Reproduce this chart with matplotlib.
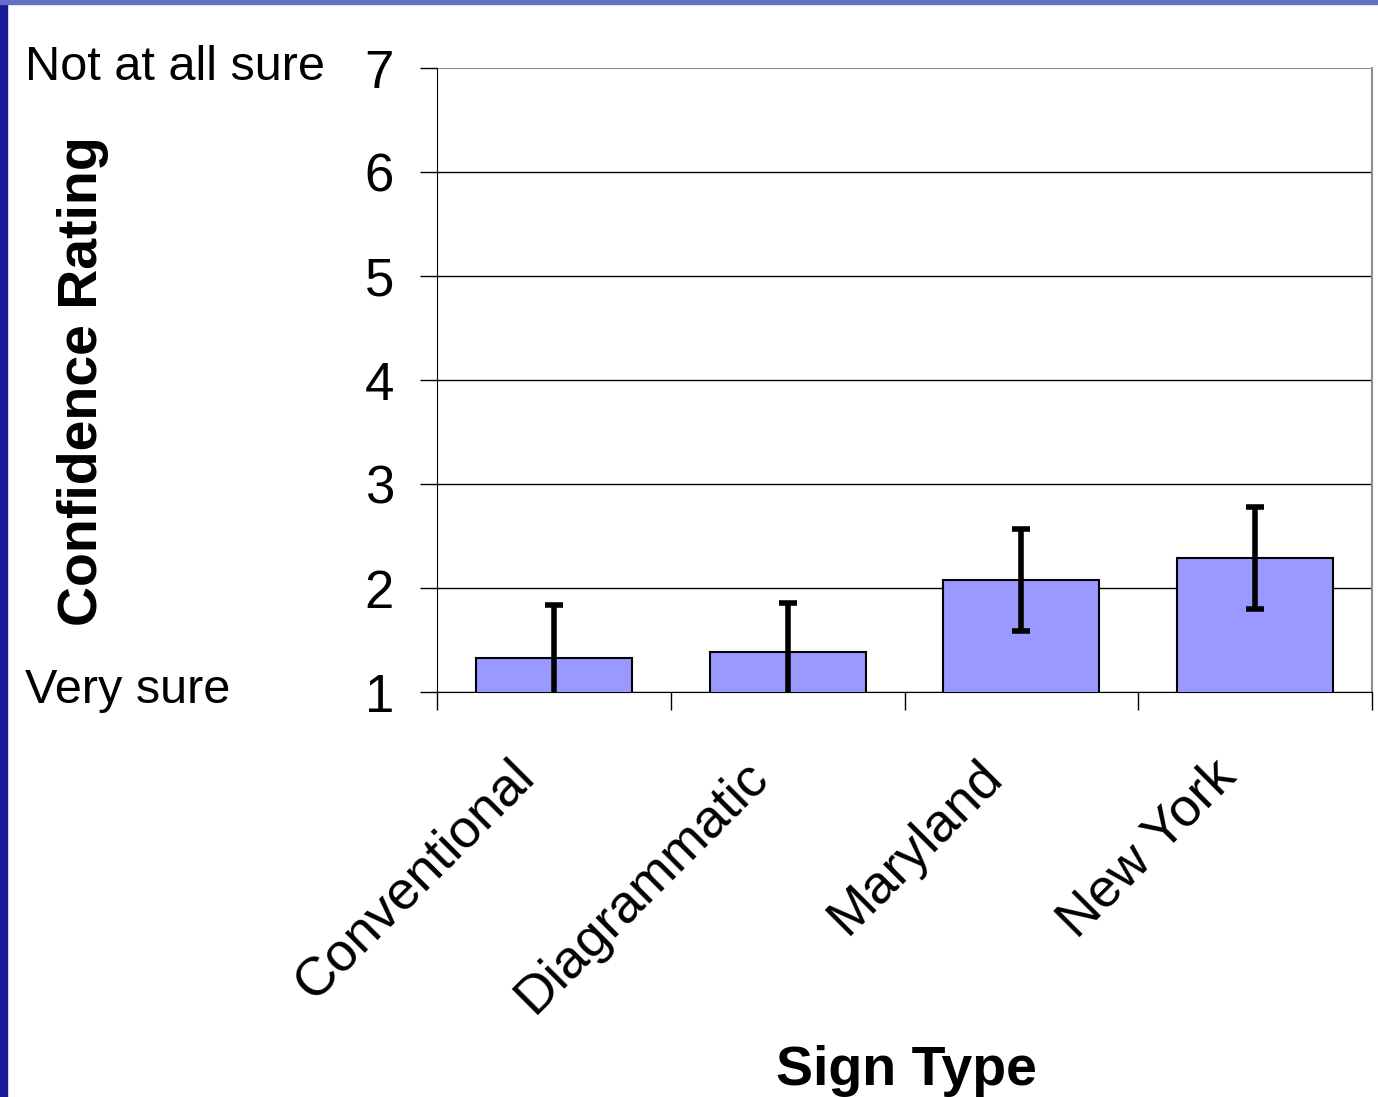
import numpy as np
import matplotlib
matplotlib.use("Agg")
import matplotlib.pyplot as plt
import matplotlib.transforms as mtransforms
from matplotlib.patches import Rectangle

plt.rcParams['font.family'] = ['Liberation Sans', 'DejaVu Sans']

# data
signs = ["Conventional", "Diagrammatic", "Maryland", "New York"]
means = [1.33, 1.38, 2.08, 2.29]
errs = [0.51, 0.48, 0.49, 0.49]
yticks = [1, 2, 3, 4, 5, 6, 7]

fig = plt.figure(figsize=(13.78, 10.97), dpi=100)

# slide background strips (left / top)
fig.patches.append(Rectangle((0, 0), 7 / 1378, 1, transform=fig.transFigure,
                             color="#1a1a9a", zorder=0))
fig.patches.append(Rectangle((0, 1 - 4 / 1097), 1, 4 / 1097, transform=fig.transFigure,
                             color="#6470c4", zorder=0))

ax = fig.add_axes([437 / 1378, 1 - 692 / 1097, (1372 - 437) / 1378, (692 - 68) / 1097])

x = np.arange(len(signs))
ax.bar(x, means, width=0.667, bottom=0, color="#9999FF", edgecolor="black",
       linewidth=1.5, zorder=3)
ax.errorbar(x, means, yerr=errs, fmt="none", ecolor="black", elinewidth=4,
            capsize=6.5, capthick=4, zorder=4)

ax.set_xlim(-0.5, len(signs) - 0.5)
ax.set_ylim(1, 7)
ax.set_yticks(yticks)
ax.set_yticklabels([str(t) for t in yticks], fontsize=38)
ax.tick_params(axis="y", direction="out", length=12, width=1, pad=19)

# gridlines
for t in yticks[:-1]:
    ax.axhline(t, color="black", linewidth=1, zorder=1)
ax.axhline(7, color="#909090", linewidth=1.5, zorder=1)

ax.spines["top"].set_visible(False)
ax.spines["right"].set_color("#909090")
ax.spines["right"].set_linewidth(1.5)
ax.spines["left"].set_color("black")
ax.spines["bottom"].set_color("black")

# x ticks at category boundaries, labels drawn as rotated text
ax.set_xticks(np.arange(-0.5, len(signs)), minor=True)
ax.tick_params(axis="x", which="minor", direction="out", length=13, width=1)
ax.set_xticks(x)
ax.set_xticklabels([])
ax.tick_params(axis="x", which="major", length=0)

lab_trans = mtransforms.blended_transform_factory(ax.transData, ax.transAxes)
offset = mtransforms.ScaledTranslation(-45 / 100, -59 / 100, fig.dpi_scale_trans)
for xi, name in zip(x, signs):
    ax.text(xi, 0, name, transform=lab_trans + offset, fontsize=39,
            rotation=45, ha="right", va="top", rotation_mode="anchor")

fig.text(25 / 1378, 1 - 80 / 1097, "Not at all sure", fontsize=35, ha="left",
         va="baseline")
fig.text(25 / 1378, 1 - 703 / 1097, "Very sure", fontsize=35, ha="left",
         va="baseline")
fig.text(83 / 1378, 1 - 381 / 1097, "Confidence Rating", fontsize=40,
         fontweight="bold", rotation=90, ha="center", va="center")
fig.text(906 / 1378, 1 - 1085 / 1097, "Sign Type", fontsize=40,
         fontweight="bold", ha="center", va="baseline")

fig.savefig("out.png", dpi=100)
